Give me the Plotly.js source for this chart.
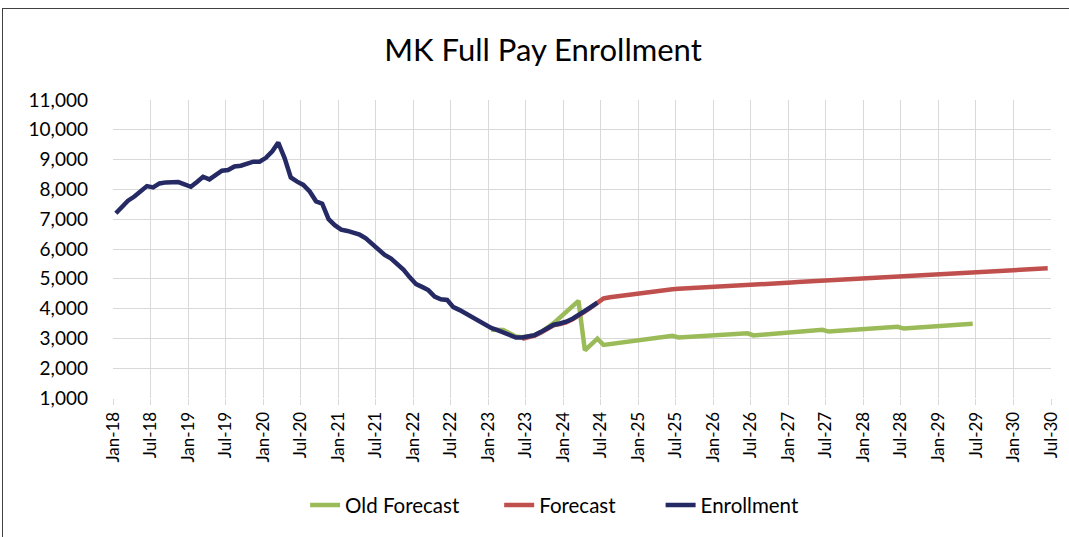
<!DOCTYPE html>
<html>
<head>
<meta charset="utf-8">
<script src="https://cdn.plot.ly/plotly-3.0.1.min.js"></script>
<style>
  html, body { margin: 0; padding: 0; background: #fff; overflow: hidden; }
  #chart { width: 1069px; height: 537px; position: absolute; left: 0; top: 0; }
  #frame { position: absolute; left: 2px; top: 8px; width: 1200px; height: 700px;
           border: 1px solid #404040; pointer-events: none; }
</style>
</head>
<body>
<div id="chart"></div>
<div id="frame"></div>
<script>
// ---- data (monthly, values) ----
const enrollmentStart = "2018-01";
const enrollment = [
  7200, 7450, 7620, 7760, 7950, 8110, 8067, 8200, 8235, 8230, 8245, 8170,
  8088, 8260, 8424, 8337, 8480, 8626, 8650, 8770, 8795, 8860, 8930, 8930,
  9060, 9280, 9569, 9050, 8400, 8260, 8150, 7930, 7600, 7520, 7000, 6800,
  6650, 6605, 6560, 6480, 6360, 6160, 5950, 5800, 5680, 5491, 5300, 5050,
  4820, 4720, 4620, 4400, 4310, 4290, 4050, 3950, 3820, 3710, 3600, 3450,
  3350, 3280, 3200, 3100, 3030, 3030, 3060, 3110, 3220, 3360, 3460, 3500,
  3560, 3660, 3770, 3920, 4060, 4200
];

const oldForecastStart = "2023-01";
const oldForecast = [
  3290, 3300, 3280, 3170, 3060, 3040, 3060, 3110, 3210, 3340, 3510, 3700,
  3890, 4080, 4260, 2600, 2800, 2990,
  2780, 2810, 2835, 2860, 2890, 2915, 2945, 2970, 3000, 3030, 3060, 3090,
  3030, 3040, 3055, 3065, 3080, 3090, 3105, 3115, 3130, 3140, 3155, 3170,
  3100, 3115, 3130, 3150, 3165, 3185, 3200, 3220, 3235, 3255, 3270, 3290,
  3230, 3245, 3260, 3270, 3285, 3300, 3315, 3330, 3345, 3360, 3375, 3390,
  3330, 3345, 3360, 3375, 3390, 3405, 3420, 3430, 3445, 3460, 3475, 3490
];

const forecastStart = "2023-06";
const forecast = [
  2990, 3040, 3090, 3200, 3340, 3440, 3480, 3540, 3640, 3750, 3900, 4040, 4190,
  4340, 4380, 4410, 4440, 4470, 4500, 4530, 4560, 4590, 4610, 4630, 4650,
  4665, 4675, 4690, 4700, 4710, 4720, 4735, 4745, 4755, 4765, 4780, 4795,
  4805, 4815, 4830, 4840, 4850, 4865, 4875, 4890, 4900, 4915, 4925, 4940,
  4950, 4960, 4975, 4985, 4995, 5010, 5020, 5030, 5045, 5055, 5065, 5080,
  5090, 5100, 5110, 5125, 5135, 5145, 5160, 5170, 5180, 5195, 5205, 5215,
  5225, 5235, 5245, 5255, 5265, 5280, 5290, 5300, 5310, 5325, 5335, 5350
];

const seriesNames = ["Old Forecast", "Forecast", "Enrollment"];
const seriesColors = ["#9BBB59", "#C0504D", "#252A64"];

// mid-month date for each monthly value
function monthDates(start, n) {
  const [y0, m0] = start.split("-").map(Number);
  const out = [];
  for (let i = 0; i < n; i++) {
    const t = (m0 - 1) + i;
    const y = y0 + Math.floor(t / 12);
    const m = (t % 12) + 1;
    out.push(y + "-" + String(m).padStart(2, "0") + "-15");
  }
  return out;
}

const FONT = "Lato, 'Open Sans', sans-serif";

const traces = [
  { x: monthDates(oldForecastStart, oldForecast.length), y: oldForecast,
    name: seriesNames[0], legend: "legend", line: { color: seriesColors[0], width: 4.5 } },
  { x: monthDates(forecastStart, forecast.length), y: forecast,
    name: seriesNames[1], legend: "legend2", line: { color: seriesColors[1], width: 4.5 } },
  { x: monthDates(enrollmentStart, enrollment.length), y: enrollment,
    name: seriesNames[2], legend: "legend3", line: { color: seriesColors[2], width: 4.5 } }
].map(t => Object.assign({ type: "scatter", mode: "lines", hoverinfo: "skip" }, t));

function legendAt(x) {
  return { orientation: "h", x: x, xanchor: "left", y: -0.36, yanchor: "middle",
           font: { family: FONT, size: 20.5, color: "#000" }, bgcolor: "rgba(0,0,0,0)",
           borderwidth: 0 };
}

const layout = {
  width: 1069, height: 537,
  paper_bgcolor: "rgba(0,0,0,0)", plot_bgcolor: "#fff",
  margin: { l: 113, r: 18, t: 100, b: 139 },
  title: { text: "MK Full Pay Enrollment", x: 0.508, xanchor: "center",
           y: 0.907, yanchor: "middle",
           font: { family: FONT, size: 31, color: "#000" } },
  xaxis: {
    type: "date", range: ["2018-01-01", "2030-07-01"],
    dtick: "M6", tick0: "2018-01-01", tickformat: "%b-%y", tickangle: -90,
    showgrid: true, gridcolor: "#d9d9d9", gridwidth: 1,
    ticks: "outside", ticklen: 6, tickcolor: "#d9d9d9",
    showline: false, zeroline: false,
    tickfont: { family: FONT, size: 17, color: "#000" }
  },
  yaxis: {
    range: [1000, 11000], dtick: 1000, tickformat: ",d",
    showgrid: true, gridcolor: "#d9d9d9", gridwidth: 1,
    showline: false, zeroline: false, ticks: "",
    ticklabelstandoff: 24,
    tickfont: { family: FONT, size: 19, color: "#000" }
  },
  showlegend: true,
  legend: legendAt(0.2048),
  legend2: legendAt(0.4117),
  legend3: legendAt(0.5838)
};

Plotly.newPlot("chart", traces, layout, { staticPlot: true, displayModeBar: false });
</script>
</body>
</html>
